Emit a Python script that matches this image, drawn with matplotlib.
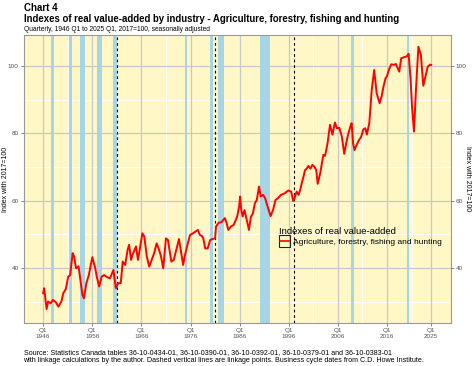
import matplotlib
matplotlib.use('Agg')
import matplotlib.pyplot as plt
from matplotlib.patches import Rectangle
from matplotlib.lines import Line2D

plt.rcParams['font.family'] = ['Liberation Sans', 'DejaVu Sans']

# series (decimal year, index 2017=100)
years = [1946.0, 1946.2, 1946.7, 1947.0, 1947.5, 1948.0, 1948.6, 1949.1, 1949.7, 1950.1,
         1950.6, 1951.1, 1951.5, 1952.0, 1952.3, 1952.7, 1953.2, 1954.0, 1954.3, 1954.8,
         1955.3, 1956.0, 1956.6, 1956.9, 1957.4, 1957.9, 1958.4, 1958.9, 1959.6, 1960.3,
         1960.8, 1961.3, 1961.8, 1962.2, 1962.7, 1963.2, 1963.5, 1963.9, 1964.2, 1964.9,
         1965.3, 1965.6, 1966.2, 1966.6, 1967.1, 1967.6, 1968.1, 1968.6, 1969.1, 1969.6,
         1970.0, 1970.45, 1971.0, 1971.4, 1972.1, 1972.6, 1973.1, 1973.65, 1974.0, 1974.5,
         1974.8, 1975.3, 1975.9, 1976.5, 1977.0, 1977.5, 1977.9, 1978.3, 1978.6, 1979.0,
         1979.5, 1980.0, 1980.5, 1981.0, 1981.2, 1981.7, 1982.3, 1983.0, 1983.3, 1983.7,
         1984.2, 1984.8, 1985.5, 1985.9, 1986.1, 1986.3, 1986.6, 1987.0, 1987.9, 1988.3,
         1988.7, 1989.1, 1989.5, 1989.95, 1990.3, 1990.8, 1991.2, 1991.7, 1992.3, 1992.8,
         1993.3, 1993.8, 1994.4, 1995.2, 1995.9, 1996.5, 1996.9, 1997.2, 1997.6, 1998.0,
         1998.4, 1998.65, 1999.0, 1999.3, 1999.7, 2000.0, 2000.4, 2000.8, 2001.2, 2001.6,
         2001.9, 2002.4, 2003.05, 2003.4, 2003.9, 2004.4, 2004.9, 2005.4, 2005.8, 2006.3,
         2006.8, 2007.3, 2007.7, 2008.0, 2008.5, 2008.8, 2009.1, 2009.4, 2009.8, 2010.3,
         2010.7, 2011.2, 2011.6, 2011.9, 2012.4, 2012.9, 2013.4, 2013.9, 2014.5, 2014.9,
         2015.3, 2015.7, 2016.0, 2016.5, 2016.9, 2017.4, 2017.8, 2018.5, 2018.9, 2019.5,
         2020.0, 2020.4, 2020.8, 2021.1, 2021.5, 2021.9, 2022.4, 2022.9, 2023.4, 2023.9,
         2024.3, 2024.8, 2025.0]
index_vals = [32.5, 34.0, 27.8, 30.0, 29.5, 30.5, 29.8, 28.5, 30.0, 32.5,
              33.7, 37.4, 37.9, 44.4, 43.4, 39.9, 40.5, 32.0, 31.0, 35.5,
              37.9, 43.2, 40.0, 37.5, 34.5, 37.4, 37.9, 37.4, 36.9, 39.4,
              34.0, 35.5, 35.5, 41.9, 40.9, 45.4, 46.9, 42.4, 43.9, 46.4,
              42.4, 44.9, 50.3, 49.3, 43.4, 40.4, 42.4, 44.4, 47.3, 45.4,
              43.4, 39.9, 48.8, 48.3, 41.9, 42.4, 45.4, 48.6, 45.4, 40.9,
              43.4, 46.4, 49.8, 50.3, 50.8, 51.3, 49.8, 49.5, 48.8, 45.8,
              45.8, 48.3, 48.6, 48.8, 52.3, 53.4, 53.6, 54.8, 53.6, 51.3,
              52.3, 52.8, 55.3, 58.2, 61.2, 57.7, 55.3, 57.2, 51.3, 55.2,
              56.2, 59.2, 60.2, 64.2, 61.2, 61.7, 60.7, 58.2, 55.4, 57.2,
              60.2, 60.7, 61.7, 62.2, 63.0, 62.7, 59.9, 60.7, 62.7, 61.7,
              63.5, 65.2, 67.1, 69.0, 69.6, 70.3, 69.5, 70.6, 70.1, 69.1,
              65.0, 68.1, 73.6, 73.3, 77.0, 82.5, 79.6, 83.2, 81.5, 81.6,
              79.1, 73.9, 77.0, 79.1, 81.8, 83.0, 77.0, 75.0, 76.5, 78.0,
              78.8, 81.2, 81.5, 79.6, 83.0, 92.9, 98.8, 91.9, 88.9, 90.9,
              93.9, 96.3, 97.0, 99.3, 100.5, 100.3, 100.6, 98.3, 102.3, 102.6,
              102.8, 103.6, 96.3, 87.9, 80.5, 92.9, 105.7, 103.3, 94.1, 97.3,
              99.8, 100.4, 100.3]

# business cycle recessions (C.D. Howe), decimal years
rec_start = [1947.5, 1951.25, 1953.5, 1957.0, 1960.25, 1974.95, 1980.0, 1981.5, 1990.25, 2008.75, 2020.1]
rec_end = [1948.2, 1951.85, 1954.5, 1958.0, 1961.1, 1975.2, 1980.5, 1982.75, 1992.25, 2009.3, 2020.5]

# linkage points
link_years = [1961.0, 1981.0, 1997.0]

tick_years = [1946, 1956, 1966, 1976, 1986, 1996, 2006, 2016, 2025]
tick_labels = ['Q1\n%d' % y for y in tick_years]
minor_years = [1951, 1961, 1971, 1981, 1991, 2001, 2011, 2021]
y_ticks = [40, 60, 80, 100]
y_minor = [30, 50, 70, 90]


class BoxLineKey:
    # ggplot-like legend key: square outline with the line through it
    def legend_artist(self, legend, orig_handle, fontsize, handlebox):
        x0, y0 = handlebox.xdescent, handlebox.ydescent
        w = handlebox.width
        yb = y0 - 2.5
        box = Rectangle((x0, yb), w, w, facecolor='none', edgecolor='#222222',
                        lw=0.8, transform=handlebox.get_transform())
        ln = Line2D([x0 + 1, x0 + w - 1], [yb + w / 2, yb + w / 2], color='#FF0000',
                    lw=1.2, transform=handlebox.get_transform())
        handlebox.add_artist(box)
        handlebox.add_artist(ln)
        return box


fig = plt.figure(figsize=(4.74, 3.66), dpi=100)
ax = fig.add_axes([0.0496, 0.1175, 0.9015, 0.787])
ax.set_facecolor('#FFF8C6')

for s, e in zip(rec_start, rec_end):
    ax.axvspan(s, e, color='#A8D5E6', lw=0, zorder=1)

for y in minor_years:
    ax.axvline(y, color='white', lw=0.6, zorder=0.5)
for y in y_minor:
    ax.axhline(y, color='white', lw=0.6, zorder=0.5)
for y in tick_years:
    ax.axvline(y, color='#C8C8C8', lw=0.9, zorder=0.6)
for y in y_ticks:
    ax.axhline(y, color='#C8C8C8', lw=0.9, zorder=0.6)

for y in link_years:
    ax.axvline(y, color='black', lw=0.8, ls=(0, (2.5, 2.5)), zorder=2)

line, = ax.plot(years, index_vals, color='#FF0000', lw=1.4, zorder=3)

ax.set_xlim(1942.0, 2029.0)
ax.set_ylim(23.66, 109.2)
ax.set_xticks(tick_years)
ax.set_xticklabels(tick_labels)
ax.set_yticks(y_ticks)
ax.tick_params(axis='both', labelsize=4.6, labelcolor='#555555', color='#555555',
               length=2, width=0.5, pad=1.5)
ax.set_ylabel('Index with 2017=100', fontsize=5)
ax.yaxis.set_label_coords(-0.034, 0.5)
for sp in ax.spines.values():
    sp.set_color('#999999')
    sp.set_linewidth(0.8)

ax2 = ax.twinx()
ax2.set_ylim(ax.get_ylim())
ax2.set_yticks(y_ticks)
ax2.tick_params(axis='y', labelsize=4.6, labelcolor='#555555', color='#555555',
                length=2, width=0.5, pad=1.5)
ax2.set_ylabel('Index with 2017=100', fontsize=5, rotation=270, va='center')
ax2.yaxis.set_label_coords(1.04, 0.5)
for sp in ax2.spines.values():
    sp.set_visible(False)

leg = ax.legend([line], ['Agriculture, forestry, fishing and hunting'],
                handler_map={line: BoxLineKey()},
                title='Indexes of real value-added', title_fontsize=6.8, fontsize=6.0,
                loc='upper left', bbox_to_anchor=(0.594, 0.34), frameon=False,
                handlelength=1.35, handleheight=1.0, handletextpad=0.3, borderpad=0.2,
                labelspacing=0.2, borderaxespad=0)
leg._legend_box.align = 'left'

fig.text(0.0496, 0.991, 'Chart 4', fontsize=7, fontweight='bold', va='top')
fig.text(0.0496, 0.962, 'Indexes of real value-added by industry - Agriculture, forestry, fishing and hunting',
         fontsize=6.9, fontweight='bold', va='top')
fig.text(0.0496, 0.929, 'Quarterly, 1946 Q1 to 2025 Q1, 2017=100, seasonally adjusted',
         fontsize=4.75, va='top')
fig.text(0.0496, 0.027,
         'Source: Statistics Canada tables 36-10-0434-01, 36-10-0390-01, 36-10-0392-01, 36-10-0379-01 and 36-10-0383-01\n'
         'with linkage calculations by the author. Dashed vertical lines are linkage points. Business cycle dates from C.D. Howe Institute.',
         fontsize=5.1, va='center', linespacing=1.2)

fig.savefig('out.png', dpi=100)
